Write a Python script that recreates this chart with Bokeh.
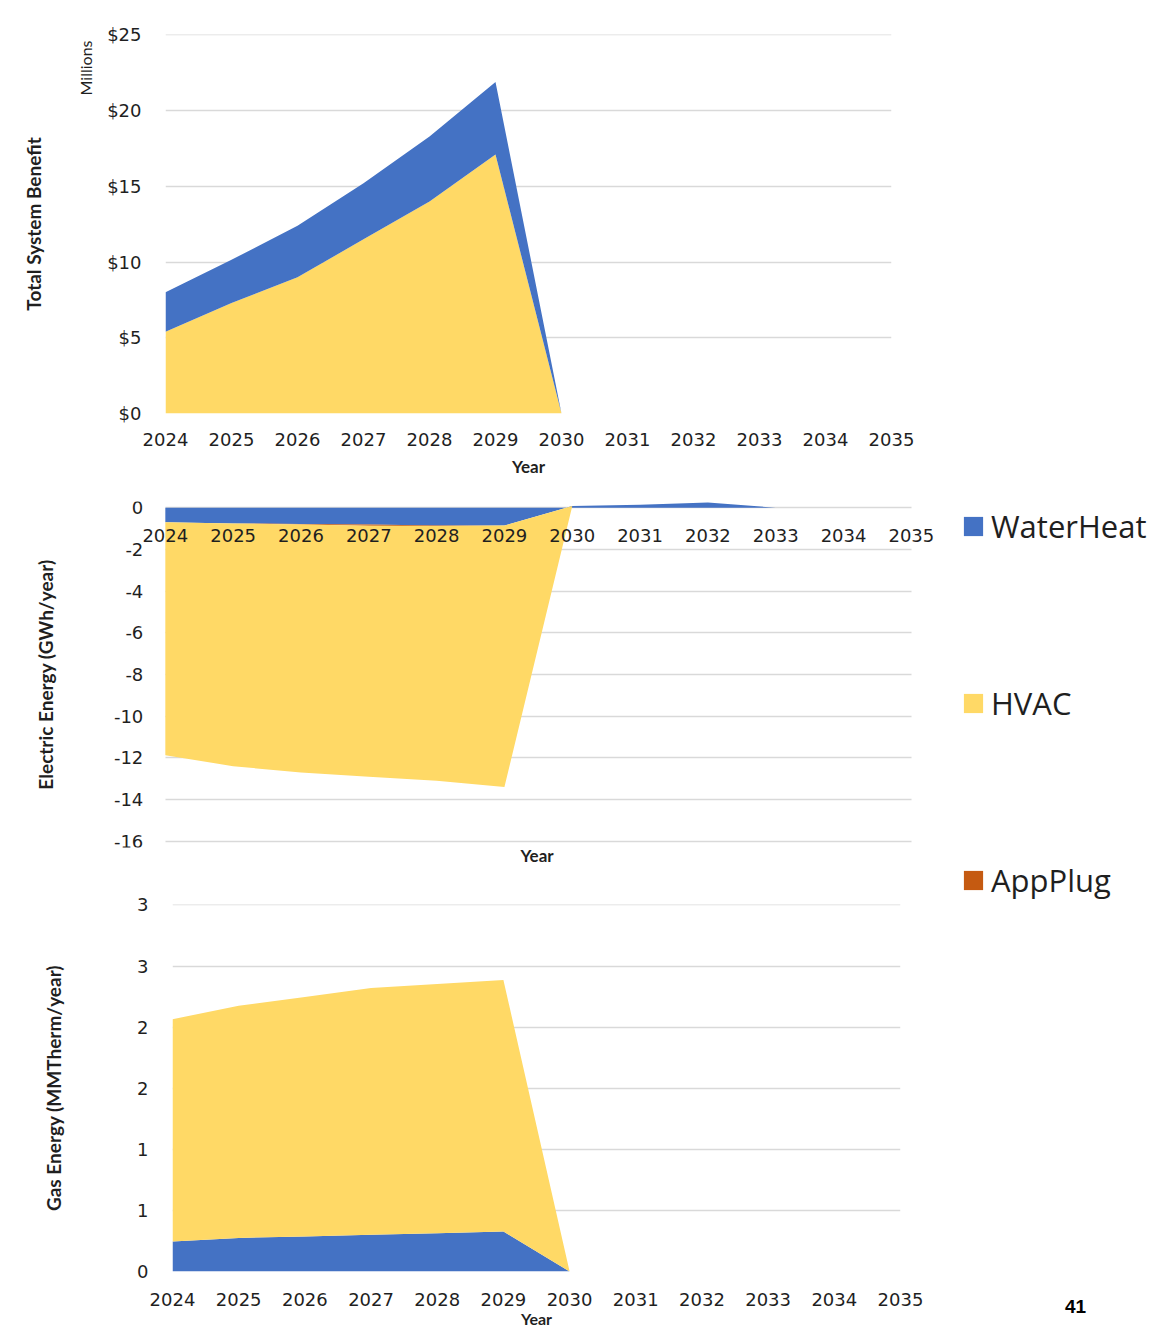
from bokeh.plotting import figure
from bokeh.models import (ColumnDataSource, Range1d, FixedTicker, NumeralTickFormatter,
                          CustomJSTickFormatter, Title, Label, Legend, LegendItem, LinearAxis, Grid)
from bokeh.layouts import row, column
from bokeh.embed import file_html
from bokeh.resources import INLINE

# ---------------- data ----------------
years = [2024, 2025, 2026, 2027, 2028, 2029, 2030, 2031, 2032, 2033, 2034, 2035]
series_names = ["WaterHeat", "HVAC", "AppPlug"]

# Total System Benefit ($ millions)
tsb_waterheat = [2.6, 2.85, 3.4, 3.7, 4.3, 4.8, 0, 0, 0, 0, 0, 0]
tsb_hvac = [5.4, 7.3, 9.0, 11.5, 14.0, 17.1, 0, 0, 0, 0, 0, 0]
tsb_appplug = [0, 0, 0, 0, 0, 0, 0, 0, 0, 0, 0, 0]
tsb_ticks = [0, 5, 10, 15, 20, 25]

# Electric Energy (GWh/year)
elec_waterheat = [-0.70, -0.75, -0.78, -0.80, -0.85, -0.85, 0.08, 0.15, 0.25, 0, 0, 0]
elec_appplug = [0, 0, -0.02, -0.06, -0.02, 0, 0, 0, 0, 0, 0, 0]
elec_hvac = [-11.17, -11.65, -11.9, -12.04, -12.23, -12.55, 0, 0, 0, 0, 0, 0]
elec_ticks = [0, -2, -4, -6, -8, -10, -12, -14, -16]

# Gas Energy (MMTherm/year)
gas_waterheat = [0.245, 0.275, 0.286, 0.30, 0.313, 0.327, 0, 0, 0, 0, 0, 0]
gas_hvac = [1.82, 1.90, 1.96, 2.02, 2.04, 2.06, 0, 0, 0, 0, 0, 0]
gas_appplug = [0, 0, 0, 0, 0, 0, 0, 0, 0, 0, 0, 0]
gas_ticks = [0, 0.5, 1.0, 1.5, 2.0, 2.5, 3.0]

# ---------------- style ----------------
BLUE = "#4472C4"
YELLOW = "#FFD966"
ORANGE = "#C55A11"
GRID = "#D9D9D9"
TICK_FONT = "DejaVu Sans"
TITLE_FONT = "Lato"
TEXT = "#1f1f1f"


def style_axis(ax):
    ax.axis_line_color = None
    ax.major_tick_line_color = None
    ax.minor_tick_line_color = None
    ax.major_label_text_font = TICK_FONT
    ax.major_label_text_font_size = "18px"
    ax.major_label_text_color = TEXT
    ax.axis_label_text_font = TITLE_FONT
    ax.axis_label_text_font_style = "bold"
    ax.axis_label_text_color = TEXT


def title_axis(text, standoff, size="19px"):
    ax = LinearAxis(ticker=FixedTicker(ticks=[]), axis_label=text)
    style_axis(ax)
    ax.major_tick_out = 0
    ax.major_label_standoff = 0
    ax.axis_label_text_font_size = size
    ax.axis_label_standoff = standoff
    return ax


def base_fig(width, height, left, right, top, bottom, xr, yr):
    p = figure(width=width, height=height, x_range=xr, y_range=yr,
               toolbar_location=None, output_backend="svg",
               min_border_left=left, min_border_right=right,
               min_border_top=top, min_border_bottom=bottom)
    p.frame_align = False
    p.outline_line_color = None
    p.xgrid.visible = False
    p.ygrid.grid_line_color = GRID
    p.ygrid.grid_line_width = 1.3
    p.background_fill_color = "white"
    p.border_fill_color = "white"
    style_axis(p.xaxis[0])
    style_axis(p.yaxis[0])
    p.xaxis.ticker = FixedTicker(ticks=years)
    return p


# ---------------- chart 1 ----------------
src1 = ColumnDataSource(dict(year=years, WaterHeat=tsb_waterheat, HVAC=tsb_hvac, AppPlug=tsb_appplug))
f1 = base_fig(943, 480, 165, 52, 34, 67, Range1d(2024, 2035), Range1d(0, 25.03))
f1.varea_stack(stackers=["HVAC", "WaterHeat", "AppPlug"], x="year",
               color=[YELLOW, BLUE, ORANGE], source=src1)
f1.yaxis.ticker = FixedTicker(ticks=tsb_ticks)
f1.yaxis.formatter = NumeralTickFormatter(format="$0")
f1.yaxis.major_label_standoff = 18
f1.xaxis.major_label_standoff = 13
f1.xaxis.axis_label = "Year"
f1.xaxis.axis_label_text_font_size = "17px"
f1.xaxis.axis_label_standoff = 7
f1.add_layout(Title(text="Millions", align="right", text_font=TITLE_FONT,
                    text_font_style="normal", text_font_size="16px", text_color=TEXT,
                    standoff=20, offset=6), "left")
f1.add_layout(title_axis("Total System Benefit", 19), "left")

# ---------------- chart 2 ----------------
src2 = ColumnDataSource(dict(year=years, WaterHeat=elec_waterheat, HVAC=elec_hvac, AppPlug=elec_appplug))
f2 = base_fig(943, 400, 97, 5, 21, 33, Range1d(2023, 2035.4), Range1d(-16.3, 0.3))
f2.yaxis.ticker = FixedTicker(ticks=elec_ticks)
if "cross_bounds" in Grid.properties():
    f2.ygrid.cross_bounds = (years[0], years[-1])
else:
    f2.ygrid.visible = False
    f2.segment(x0=years[0], x1=years[-1], y0=elec_ticks, y1=elec_ticks,
               line_color=GRID, line_width=1.3)
f2.varea_stack(stackers=["WaterHeat", "AppPlug", "HVAC"], x="year",
               color=[BLUE, ORANGE, YELLOW], source=src2)
f2.yaxis.formatter = CustomJSTickFormatter(code="return tick.toString();")
f2.yaxis.fixed_location = 2024
f2.yaxis.major_label_standoff = 16
f2.xaxis.fixed_location = 0
f2.xaxis.major_label_standoff = 15
f2.add_layout(title_axis("Electric Energy (GWh/year)", 41), "left")
year2 = Title(text="Year", align="left", offset=423, text_font=TITLE_FONT,
              text_font_style="bold", text_font_size="17px", text_color=TEXT, standoff=0)
try:
    year2.standoff = -10
except Exception:
    year2.standoff = 0
f2.add_layout(year2, "below")

# ---------------- chart 3 ----------------
src3 = ColumnDataSource(dict(year=years, WaterHeat=gas_waterheat, HVAC=gas_hvac, AppPlug=gas_appplug))
f3 = base_fig(943, 452, 172, 43, 24, 61, Range1d(2024, 2035), Range1d(0, 3.004))
f3.varea_stack(stackers=["WaterHeat", "HVAC", "AppPlug"], x="year",
               color=[BLUE, YELLOW, ORANGE], source=src3)
f3.yaxis.ticker = FixedTicker(ticks=gas_ticks)
f3.yaxis.formatter = CustomJSTickFormatter(code="return Math.round(tick).toString();")
f3.yaxis.major_label_standoff = 18
f3.yaxis.axis_label = "Gas Energy (MMTherm/year)"
f3.yaxis.axis_label_text_font_size = "19px"
f3.yaxis.axis_label_standoff = 69
f3.xaxis.major_label_standoff = 15
f3.xaxis.axis_label = "Year"
f3.xaxis.axis_label_text_font_size = "16px"
f3.xaxis.axis_label_standoff = 0

# ---------------- legend panel ----------------
fl = figure(width=220, height=1332, x_range=Range1d(0, 1), y_range=Range1d(0, 1),
            toolbar_location=None, output_backend="svg", min_border=0,
            x_axis_location=None, y_axis_location=None)
fl.frame_align = False
fl.outline_line_color = None
fl.grid.visible = False
fl.border_fill_color = "white"
colors = {"WaterHeat": BLUE, "HVAC": YELLOW, "AppPlug": ORANGE}
items = []
for name in series_names:
    r = fl.varea(x=[0, 1], y1=[0, 0], y2=[0, 0], color=colors[name])
    items.append(LegendItem(label=name, renderers=[r]))
legend = Legend(items=items, location=(18, 431), orientation="vertical", spacing=135,
                glyph_width=24, glyph_height=24, label_standoff=6, label_height=34,
                label_text_font="Open Sans", label_text_font_size="31px",
                label_text_color=TEXT, padding=0, margin=0,
                border_line_color=None, background_fill_alpha=0)
fl.add_layout(legend)
fl.add_layout(Label(x=132, y=26, x_units="screen", y_units="screen", text="41",
                    text_align="center", text_baseline="middle",
                    text_font="Liberation Sans", text_font_style="bold",
                    text_font_size="19px", text_color="black"))

layout = row(column(f1, f2, f3), fl)
open("out.html", "w").write(file_html(layout, INLINE))
